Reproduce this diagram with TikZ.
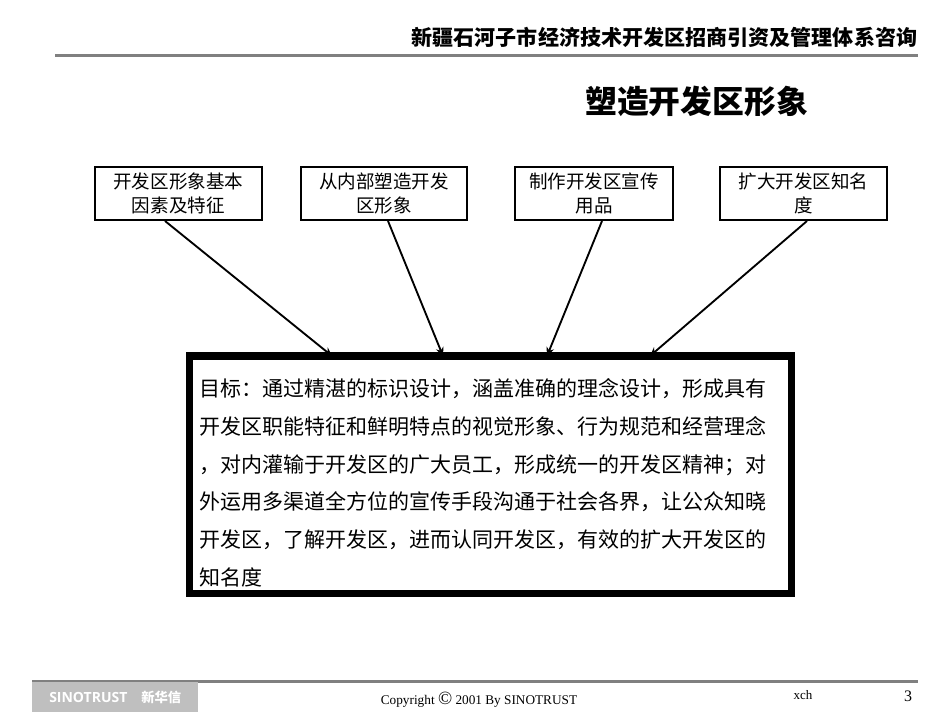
\documentclass[tikz,border=0pt]{standalone}
\usepackage{fontspec}
\setmainfont{Noto Sans CJK SC}
\newfontfamily\timesf{Liberation Serif}
\newfontfamily\logof[BoldFont={Open Sans Bold}]{Open Sans}
\usetikzlibrary{arrows.meta}
\tikzset{
 x=0.75pt,y=-0.75pt,
 topbox/.style={draw=black,line width=1.5pt,fill=white,minimum width=125pt,minimum height=39.75pt,inner sep=0pt,align=center,font=\fontsize{13.9pt}{18.2pt}\selectfont},
 link/.style={draw=black,line width=1.4pt,-{Stealth[length=6.5pt,width=6pt]}},
 rulegray/.style={draw=none,fill=black!50},
}
\begin{document}
\begin{tikzpicture}
\useasboundingbox (0,0) rectangle (950,713);
\fill[white] (0,0) rectangle (950,713);
% header
\node[anchor=east,inner sep=0pt,font=\fontsize{15.8pt}{18pt}\selectfont\bfseries] (hdr) at (917.5,37) {新疆石河子市经济技术开发区招商引资及管理体系咨询};
\fill[rulegray] (55,54) rectangle (918,57);
\node[anchor=center,inner sep=0pt,font=\fontsize{23.85pt}{28pt}\selectfont\bfseries] (ttl) at (696.5,101) {塑造开发区形象};
% top boxes
\node[topbox] (b1) at (178.3,193.2) {开发区形象基本\\因素及特征};
\node[topbox] (b2) at (384,193.2) {从内部塑造开发\\区形象};
\node[topbox,minimum width=119pt] (b3) at (594,193.2) {制作开发区宣传\\用品};
\node[topbox] (b4) at (803.5,193.2) {扩大开发区知名\\度};
% main box
\node[draw=black,line width=5.7pt,fill=white,minimum width=451.4pt,minimum height=178pt,inner sep=0pt] (main) at (490.4,474.9) {};
\node[anchor=north west,inner sep=0pt,align=left,font=\fontsize{15.75pt}{28.4pt}\selectfont] (body) at (199.5,378) {目标：通过精湛的标识设计，涵盖准确的理念设计，形成具有\\开发区职能特征和鲜明特点的视觉形象、行为规范和经营理念\\，对内灌输于开发区的广大员工，形成统一的开发区精神；对\\外运用多渠道全方位的宣传手段沟通于社会各界，让公众知晓\\开发区，了解开发区，进而认同开发区，有效的扩大开发区的\\知名度};
% connector ends
\coordinate (s1) at (165,221);
\coordinate (s2) at (388,221);
\coordinate (s3) at (602,221);
\coordinate (s4) at (807,221);
\coordinate (t1) at (332,356);
\coordinate (t2) at (443,356);
\coordinate (t3) at (547,356);
\coordinate (t4) at (650,356);
\draw[link] (s1) -- (t1);
\draw[link] (s2) -- (t2);
\draw[link] (s3) -- (t3);
\draw[link] (s4) -- (t4);
% footer
\fill[rulegray] (32,680) rectangle (918,682.5);
\fill[black!25] (32,682) rectangle (198,712);
\node[anchor=west,inner sep=0pt,text=white,font=\logof\bfseries\fontsize{10.5pt}{12pt}\selectfont] (logo) at (49,697.5) {SINOTRUST};
\node[anchor=west,inner sep=0pt,text=white,font=\fontsize{10pt}{12pt}\selectfont\bfseries] (logocn) at (141,697.5) {新华信};
\node[anchor=center,inner sep=0pt,font=\timesf\fontsize{9.95pt}{11pt}\selectfont] (copy) at (479,699.5) {Copyright {\fontsize{14pt}{14pt}\selectfont ©} 2001 By SINOTRUST};
\node[anchor=center,inner sep=0pt,font=\timesf\fontsize{9.75pt}{11pt}\selectfont] (xch) at (803,695) {xch};
\node[anchor=center,inner sep=0pt,font=\timesf\fontsize{12pt}{14pt}\selectfont] (pg) at (908,696) {3};
\end{tikzpicture}
\end{document}
